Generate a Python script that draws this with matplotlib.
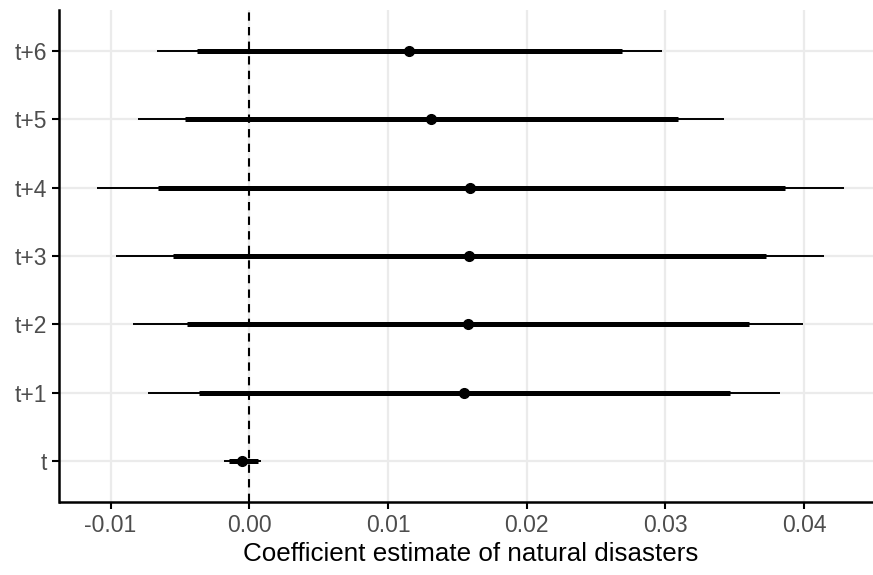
import numpy as np
import matplotlib.pyplot as plt

plt.rcParams['font.family'] = ['Liberation Sans', 'DejaVu Sans']

# leads, coefficient estimates and intervals
labels = ['t', 't+1', 't+2', 't+3', 't+4', 't+5', 't+6']
est = [-0.00053, 0.01548, 0.01575, 0.01585, 0.01593, 0.0131, 0.01153]
lo95 = [-0.00181, -0.0073, -0.00836, -0.00962, -0.01099, -0.00799, -0.00667]
hi95 = [0.00085, 0.03826, 0.0399, 0.04141, 0.04288, 0.03424, 0.02975]
lo90 = [-0.0015, -0.0036, -0.0045, -0.00553, -0.00661, -0.00462, -0.00377]
hi90 = [0.0006, 0.03463, 0.03603, 0.03727, 0.03859, 0.03087, 0.02687]

xticks = [-0.01, 0.00, 0.01, 0.02, 0.03, 0.04]

fig = plt.figure(figsize=(8.73, 5.75), dpi=100)
ax = fig.add_axes([59.5/873, 73/575, 822/873, 492/575])

y = np.arange(1, len(labels) + 1)

ax.hlines(y, lo95, hi95, color='black', lw=1.4, zorder=3)
ax.hlines(y, lo90, hi90, color='black', lw=3.6, zorder=3)
ax.plot(est, y, 'o', color='black', ms=7, zorder=4)
ax.axvline(0, color='black', lw=1.5, ls=(0, (4, 3)), zorder=2)

lo = min(lo95)
hi = max(hi95)
pad = (hi - lo) * 0.05
ax.set_xlim(lo - pad, hi + pad)
ax.set_ylim(0.4, len(labels) + 0.6)

ax.set_xticks(xticks)
ax.set_xticklabels(['%.2f' % v for v in xticks])
ax.set_yticks(y)
ax.set_yticklabels(labels)

ax.grid(True, color='#EBEBEB', lw=1.6, zorder=0)
ax.set_axisbelow(True)

for s in ['top', 'right']:
    ax.spines[s].set_visible(False)
for s in ['left', 'bottom']:
    ax.spines[s].set_linewidth(1.8)
ax.tick_params(length=5, width=1.5, colors='black', labelcolor='#4D4D4D',
               labelsize=16.5, pad=4)

ax.set_xlabel('Coefficient estimate of natural disasters', fontsize=18.7,
              labelpad=3)

fig.savefig('out.png', dpi=100)
